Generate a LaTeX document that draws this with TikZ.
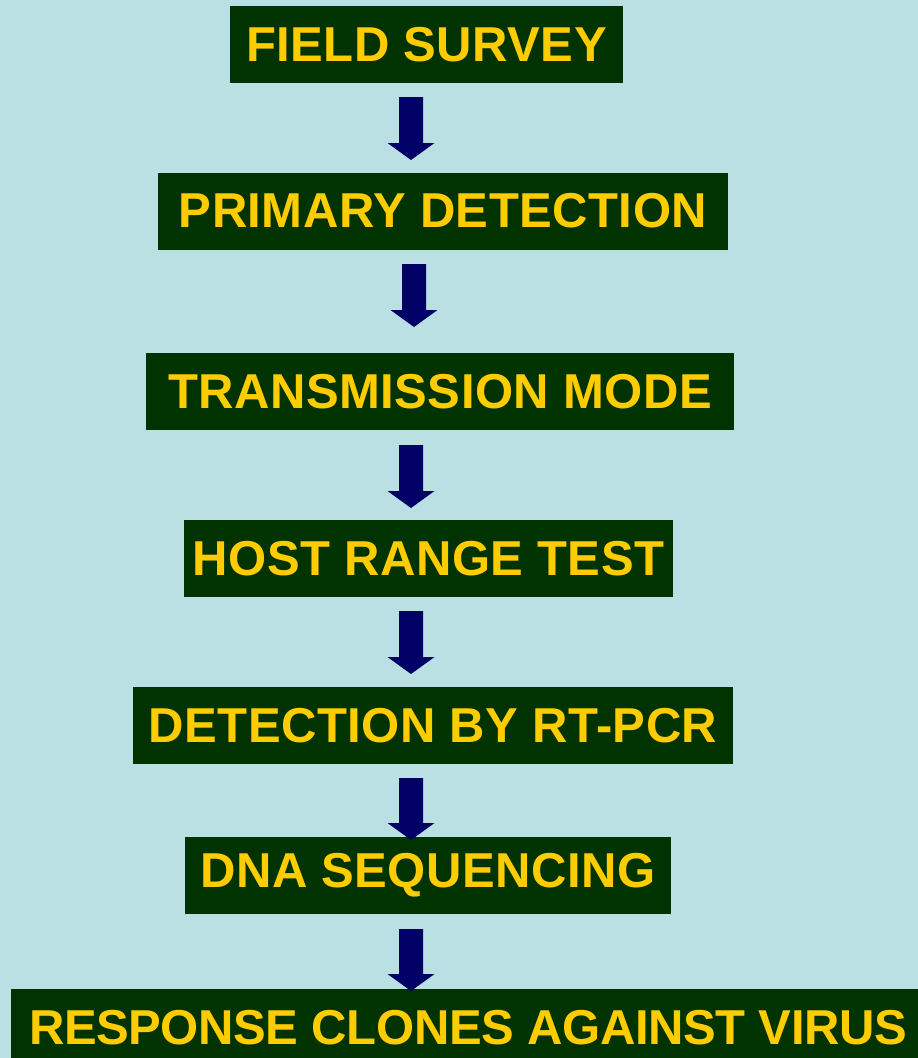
\documentclass[tikz,border=0pt]{standalone}
\usepackage{fontspec}
\setmainfont{Liberation Sans}
\newfontfamily\spacedfont[LetterSpace=1.0]{Liberation Sans}
\newfontfamily\tightfont[LetterSpace=-0.8]{Liberation Sans}
\definecolor{bgc}{HTML}{BBE0E3}
\definecolor{boxc}{HTML}{003300}
\definecolor{txtc}{HTML}{FFCC00}
\definecolor{arrc}{HTML}{000066}
\newcommand\blockarrow[3]{%
  \fill[arrc] ({#1-12},#2) -- ({#1+12},#2) -- ({#1+12},{#3-17}) -- ({#1+23.5},{#3-17})
    -- (#1,#3) -- ({#1-23.5},{#3-17}) -- ({#1-12},{#3-17}) -- cycle;}
\begin{document}
\begin{tikzpicture}[x=1pt,y=-1pt,
  stepbox/.style={fill=boxc,text=txtc,inner sep=0pt,minimum height=77pt,
    font=\spacedfont\fontsize{49}{58}\selectfont\bfseries,anchor=center}]
\useasboundingbox (0,0) rectangle (918,1058);
\fill[bgc] (0,0) rectangle (918,1058);
\node[stepbox,minimum width=393pt] (b1) at (426.5,44.5) {FIELD SURVEY};
\node[stepbox,minimum width=570pt] (b2) at (443,211) {PRIMARY DETECTION};
\node[stepbox,minimum width=588pt] (b3) at (440,391.5) {TRANSMISSION MODE};
\node[stepbox,minimum width=489pt] (b4) at (428.5,558.5) {HOST RANGE TEST};
\node[stepbox,minimum width=600pt] (b5) at (433,725.5) {DETECTION BY RT-PCR};
\node[stepbox,minimum width=486pt] (b6) at (428,875.5) {DNA SEQUENCING};
\node[stepbox,minimum width=914pt,minimum height=77pt,
  font=\tightfont\fontsize{49}{58}\selectfont\bfseries] (b7) at (468,1027.5) {RESPONSE CLONES AGAINST VIRUS};
\blockarrow{411}{97}{160}
\blockarrow{414}{264}{327}
\blockarrow{411}{445}{508}
\blockarrow{411}{611}{674}
\blockarrow{411}{778}{840}
\blockarrow{411}{929}{991}
\end{tikzpicture}
\end{document}
